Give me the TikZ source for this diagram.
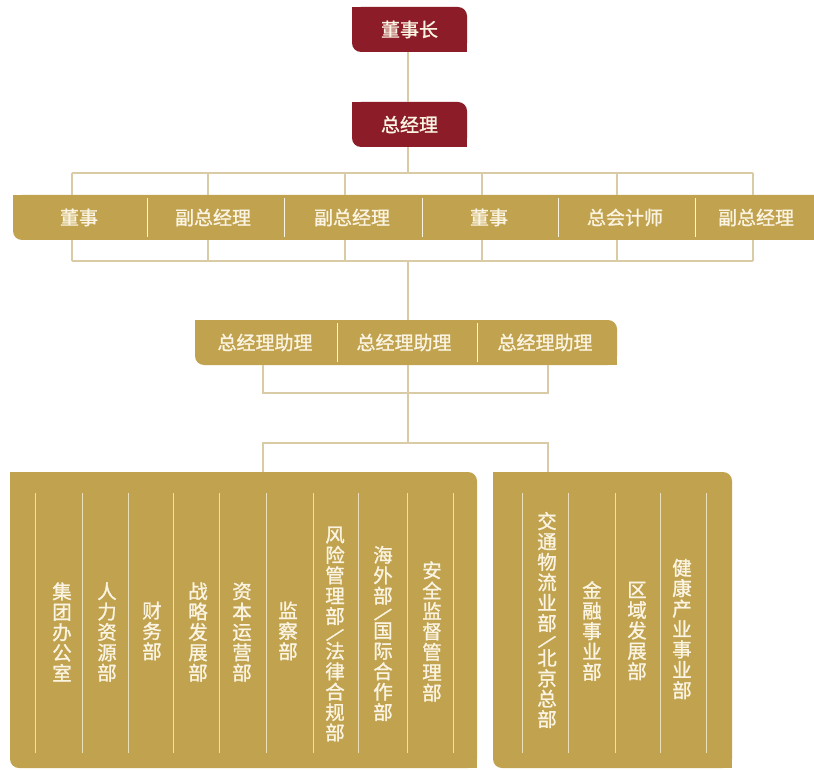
\documentclass[tikz,border=0pt]{standalone}
\usepackage{fontspec}
\setmainfont{Noto Sans CJK SC}[FakeBold=1.2]
\definecolor{gold}{HTML}{C0A24F}
\definecolor{wine}{HTML}{8C1D28}
\definecolor{cream}{HTML}{FBF4E2}
\definecolor{connc}{HTML}{D9CBA6}
\definecolor{panelline}{HTML}{EADFB8}
\newcommand\vsl{\rotatebox[origin=c]{-40}{/}}
\newcommand\sharpen[2]{%
  \fill[#2] (#1.north west) rectangle ++(12,12);
  \fill[#2] (#1.south east) rectangle ++(-12,-12);}
\begin{document}
\begin{tikzpicture}[x=1pt,y=-1pt,
  leaf/.style={fill=#1, rounded corners=9pt, inner sep=0pt, text=cream,
    font=\fontsize{19}{20}\selectfont, minimum height=45pt},
  lbl/.style={text=cream, font=\fontsize{19}{20}\selectfont, inner sep=0pt},
  vlbl/.style={text=cream, font=\fontsize{19.5}{20.4}\selectfont, align=center, inner sep=0pt},
  conn/.style={draw=connc, line width=1.2pt},
  sepline/.style={draw=cream, line width=1pt},
  pline/.style={draw=panelline, line width=0.8pt}]
\useasboundingbox (0,0) rectangle (814,770);
\fill[white] (0,0) rectangle (814,770);

% ---- connector points ----
\coordinate (t1) at (72,173);  \coordinate (t6) at (753,173);
\coordinate (b1) at (72,261);  \coordinate (b6) at (753,261);
\coordinate (m1) at (408,173); \coordinate (m2) at (408,261);
\coordinate (a1) at (263,393); \coordinate (a2) at (548,393);
\coordinate (h1) at (263,443); \coordinate (h2) at (548,443);
\coordinate (hm) at (408,443);

% ---- top boxes ----
\node[leaf=wine, minimum width=115pt] (ceo) at (409.5,29.5) {董事长};
\sharpen{ceo}{wine}
\node[leaf=wine, minimum width=115pt] (gm) at (409.5,124.5) {总经理};
\sharpen{gm}{wine}

% ---- row of six ----
\node[leaf=gold, minimum width=811pt] (bar1) at (418.5,217.5) {};
\sharpen{bar1}{gold}
\foreach \x in {147,284,422,558,695} \draw[sepline] (\x,198) -- (\x,237);
\node[lbl] (c1) at (79,217.5)  {董事};
\node[lbl] (c2) at (213,217.5) {副总经理};
\node[lbl] (c3) at (352,217.5) {副总经理};
\node[lbl] (c4) at (489,217.5) {董事};
\node[lbl] (c5) at (625,217.5) {总会计师};
\node[lbl] (c6) at (756,217.5) {副总经理};

% ---- assistants ----
\node[leaf=gold, minimum width=422pt] (bar2) at (406,342.5) {};
\sharpen{bar2}{gold}
\foreach \x in {337,477} \draw[sepline] (\x,323) -- (\x,362);
\node[lbl] (s1) at (265,342.5) {总经理助理};
\node[lbl] (s2) at (404,342.5) {总经理助理};
\node[lbl] (s3) at (545,342.5) {总经理助理};

% ---- panels ----
\node[leaf=gold, minimum width=467pt, minimum height=296pt] (pl) at (243.5,620) {};
\sharpen{pl}{gold}
\node[leaf=gold, minimum width=239pt, minimum height=296pt] (pr) at (612.5,620) {};
\sharpen{pr}{gold}
\foreach \x in {35,82,128,173,219,266,313,358,407,453} \draw[pline] (\x,493) -- (\x,753);
\foreach \x in {522,568,615,660,706} \draw[pline] (\x,493) -- (\x,753);

\node[vlbl] (d1) at (62,632)  {集\\团\\办\\公\\室};
\node[vlbl] (d2) at (107,632) {人\\力\\资\\源\\部};
\node[vlbl] (d3) at (152,631) {财\\务\\部};
\node[vlbl] (d4) at (198,632) {战\\略\\发\\展\\部};
\node[vlbl] (d5) at (242,632) {资\\本\\运\\营\\部};
\node[vlbl] (d6) at (288,631) {监\\察\\部};
\node[vlbl] (d7) at (335,634) {风\\险\\管\\理\\部\\[-3pt]\vsl\\[-3pt]法\\律\\合\\规\\部};
\node[vlbl] (d8) at (383,633.5) {海\\外\\部\\[-3pt]\vsl\\[-3pt]国\\际\\合\\作\\部};
\node[vlbl] (d9) at (432,631.5) {安\\全\\监\\督\\管\\理\\部};

\node[vlbl] (e1) at (547,620) {交\\通\\物\\流\\业\\部\\[-3pt]\vsl\\[-3pt]北\\京\\总\\部};
\node[vlbl] (e2) at (592,631) {金\\融\\事\\业\\部};
\node[vlbl] (e3) at (637,631) {区\\域\\发\\展\\部};
\node[vlbl] (e4) at (682,629) {健\\康\\产\\业\\事\\业\\部};

% ---- connector lines ----
\draw[conn] (ceo.south -| m1) -- (gm.north -| m1);
\draw[conn] (gm.south -| m1) -- (m1);
\draw[conn] (t1) -- (t6);
\draw[conn] (b1) -- (b6);
\foreach \x in {72,208,345,482,617,753} {
  \draw[conn] (\x,173) -- (\x,195);
  \draw[conn] (\x,240) -- (\x,261);
}
\draw[conn] (m2) -- (bar2.north -| m2);
\draw[conn] (bar2.south -| a1) -- (a1) -- (a2) -- (bar2.south -| a2);
\draw[conn] (bar2.south -| hm) -- (hm);
\draw[conn] (pl.north -| h1) -- (h1) -- (h2) -- (pr.north -| h2);
\end{tikzpicture}
\end{document}
